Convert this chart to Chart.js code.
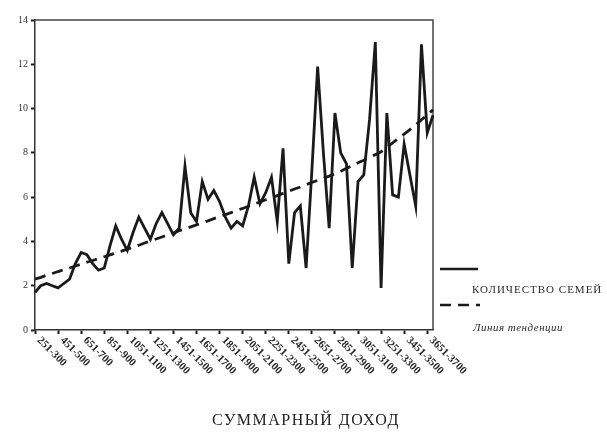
<!DOCTYPE html>
<html lang="ru">
<head>
<meta charset="utf-8">
<script src="https://cdn.jsdelivr.net/npm/chart.js@4"></script>
<style>
  html, body { margin: 0; padding: 0; background: #fff; }
  #wrap { width: 607px; height: 432px; position: relative; }
</style>
</head>
<body>
<div id="wrap"><canvas id="c" width="607" height="432"></canvas></div>
<script>
// Income groups (rubles), 50-wide buckets
const categories = [
  '251-300','301-350','351-400','401-450','451-500','501-550','551-600','601-650','651-700','701-750',
  '751-800','801-850','851-900','901-950','951-1000','1001-1050','1051-1100','1101-1150','1151-1200','1201-1250',
  '1251-1300','1301-1350','1351-1400','1401-1450','1451-1500','1501-1550','1551-1600','1601-1650','1651-1700','1701-1750',
  '1751-1800','1801-1850','1851-1900','1901-1950','1951-2000','2001-2050','2051-2100','2101-2150','2151-2200','2201-2250',
  '2251-2300','2301-2350','2351-2400','2401-2450','2451-2500','2501-2550','2551-2600','2601-2650','2651-2700','2701-2750',
  '2751-2800','2801-2850','2851-2900','2901-2950','2951-3000','3001-3050','3051-3100','3101-3150','3151-3200','3201-3250',
  '3251-3300','3301-3350','3351-3400','3401-3450','3451-3500','3501-3550','3551-3600','3601-3650','3651-3700','3701-3750'
];

// Number of families per income group
const familyCounts = [
  1.7, 2.0, 2.1, 2.0, 1.9, 2.1, 2.3, 3.0, 3.5, 3.4,
  3.0, 2.7, 2.8, 3.8, 4.7, 4.1, 3.6, 4.4, 5.1, 4.6,
  4.1, 4.8, 5.3, 4.8, 4.3, 4.6, 7.4, 5.3, 4.9, 6.7,
  5.9, 6.3, 5.8, 5.1, 4.6, 4.9, 4.7, 5.6, 6.9, 5.7,
  6.2, 6.9, 4.9, 8.2, 3.0, 5.3, 5.6, 2.8, 7.2, 11.9,
  8.0, 4.6, 9.8, 8.0, 7.5, 2.8, 6.7, 7.0, 9.5, 13.0,
  1.9, 9.8, 6.1, 6.0, 8.4, 7.0, 5.6, 12.9, 8.9, 9.7
];

// Trend line values per income group
const trendValues = [
  2.30, 2.38, 2.47, 2.55, 2.64, 2.72, 2.80, 2.89, 2.97, 3.06,
  3.14, 3.22, 3.31, 3.39, 3.48, 3.56, 3.65, 3.74, 3.83, 3.93,
  4.02, 4.11, 4.20, 4.29, 4.38, 4.48, 4.57, 4.66, 4.75, 4.84,
  4.93, 5.03, 5.12, 5.21, 5.30, 5.40, 5.49, 5.59, 5.69, 5.78,
  5.88, 5.98, 6.07, 6.17, 6.27, 6.37, 6.46, 6.56, 6.66, 6.76,
  6.85, 6.95, 7.05, 7.17, 7.30, 7.42, 7.55, 7.67, 7.80, 7.92,
  8.05, 8.25, 8.45, 8.65, 8.85, 9.05, 9.25, 9.50, 9.70, 9.95
];

const yTicks = [0, 2, 4, 6, 8, 10, 12, 14];
const labelEvery = 4;

const seriesNames = ['КОЛИЧЕСТВО СЕМЕЙ', 'Линия тенденции'];
const axisTitle = 'СУММАРНЫЙ ДОХОД';

const INK = '#1a1a1a';
const SERIF = '"Liberation Serif", "DejaVu Serif", serif';

// Frame, rotated category labels, axis caption and the side legend
const decorations = {
  id: 'decorations',
  beforeDatasetsDraw(chart) {
    const { ctx, chartArea: a } = chart;
    ctx.save();
    ctx.strokeStyle = '#444';
    ctx.lineWidth = 1.5;
    ctx.beginPath();
    ctx.moveTo(a.left, a.top);
    ctx.lineTo(a.right, a.top);
    ctx.lineTo(a.right, a.bottom);
    ctx.stroke();
    ctx.restore();
  },
  afterDraw(chart) {
    const { ctx } = chart;
    const xs = chart.scales.x;
    ctx.save();
    ctx.fillStyle = '#262626';
    ctx.font = 'bold 11px ' + SERIF;
    ctx.textAlign = 'left';
    ctx.textBaseline = 'middle';
    categories.forEach((lab, i) => {
      if (i % labelEvery !== 0) return;
      const x = xs.getPixelForValue(i);
      ctx.save();
      ctx.translate(x + 1, xs.top + 6);
      ctx.rotate(Math.PI / 4);
      ctx.fillText(lab, 4, 0);
      ctx.restore();
    });

    // caption under the category labels
    ctx.fillStyle = '#222';
    ctx.font = '16px ' + SERIF;
    ctx.letterSpacing = '1.5px';
    ctx.textAlign = 'center';
    ctx.fillText(axisTitle, 306, 421);

    // legend
    const ds = chart.data.datasets;
    ctx.textAlign = 'left';
    ctx.strokeStyle = INK;
    ctx.lineWidth = 2.5;
    ctx.beginPath();
    ctx.moveTo(440, 269);
    ctx.lineTo(478, 269);
    ctx.stroke();
    ctx.setLineDash(ds[1].borderDash);
    ctx.beginPath();
    ctx.moveTo(440, 305);
    ctx.lineTo(480, 305);
    ctx.stroke();
    ctx.setLineDash([]);
    ctx.fillStyle = '#2a2a2a';
    ctx.letterSpacing = '1px';
    ctx.font = '11px ' + SERIF;
    ctx.fillText(ds[0].label, 472, 290);
    ctx.letterSpacing = '0.5px';
    ctx.font = 'italic 11px ' + SERIF;
    ctx.fillText(ds[1].label, 473, 328);
    ctx.restore();
  }
};

new Chart(document.getElementById('c'), {
  type: 'line',
  data: {
    labels: categories,
    datasets: [
      {
        label: seriesNames[0],
        data: familyCounts,
        borderColor: INK,
        borderWidth: 2.8,
        pointRadius: 0,
        tension: 0,
        fill: false
      },
      {
        label: seriesNames[1],
        data: trendValues,
        borderColor: INK,
        borderWidth: 2.8,
        borderDash: [11, 7],
        pointRadius: 0,
        tension: 0,
        fill: false
      }
    ]
  },
  options: {
    responsive: false,
    animation: false,
    events: [],
    layout: { padding: { left: 0, right: 174, top: 20, bottom: 0 } },
    plugins: { legend: { display: false }, tooltip: { enabled: false } },
    scales: {
      x: {
        type: 'category',
        offset: false,
        afterFit(s) { s.height = 102; },
        ticks: { display: false },
        grid: {
          drawOnChartArea: false,
          drawTicks: true,
          tickLength: 4,
          tickWidth: 2,
          tickColor: c => (c.index % labelEvery === 0 ? INK : 'rgba(0,0,0,0)')
        },
        border: { color: '#333', width: 1.5 }
      },
      y: {
        min: 0,
        max: 14,
        afterFit(s) { s.width = 35; },
        afterBuildTicks(s) { s.ticks = yTicks.map(v => ({ value: v })); },
        ticks: {
          color: '#333',
          font: { family: SERIF, size: 10 },
          padding: 3
        },
        grid: {
          drawOnChartArea: false,
          tickLength: 4,
          tickWidth: 2,
          tickColor: INK
        },
        border: { color: '#333', width: 1.5 }
      }
    }
  },
  plugins: [decorations]
});
</script>
</body>
</html>
